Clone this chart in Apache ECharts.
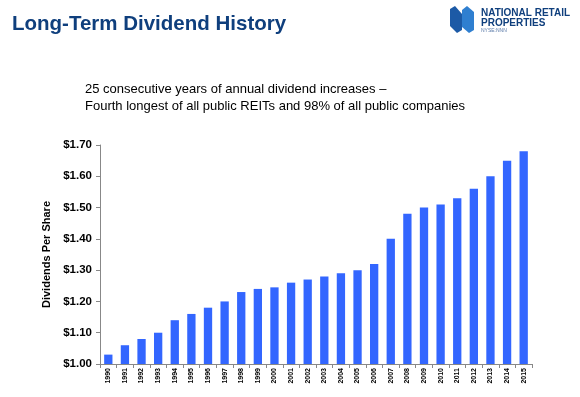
<!DOCTYPE html>
<html>
<head>
<meta charset="utf-8">
<script src="https://cdn.jsdelivr.net/npm/echarts@6/dist/echarts.min.js"></script>
<style>
  html, body { margin: 0; padding: 0; background: #fff; }
  #chart { width: 580px; height: 397px; }
</style>
</head>
<body>
<div id="chart"></div>
<script>
const years = ["1990", "1991", "1992", "1993", "1994", "1995", "1996", "1997", "1998", "1999",
  "2000", "2001", "2002", "2003", "2004", "2005", "2006", "2007", "2008", "2009",
  "2010", "2011", "2012", "2013", "2014", "2015"];
const dividends = [1.03, 1.06, 1.08, 1.10, 1.14, 1.16, 1.18, 1.20, 1.23, 1.24,
  1.245, 1.26, 1.27, 1.28, 1.29, 1.30, 1.32, 1.40, 1.48, 1.50,
  1.51, 1.53, 1.56, 1.60, 1.65, 1.68];
const subtitleLines = [
  "25 consecutive years of annual dividend increases \u2013",
  "Fourth longest of all public REITs and 98% of all public companies"
];

const chart = echarts.init(document.getElementById("chart"));

const navy = "#0f3f7d";

const option = {
  animation: false,
  textStyle: { fontFamily: "Liberation Sans, Arial, sans-serif" },
  graphic: [
    {
      type: "text", left: 12, top: 14,
      style: { text: "Long-Term Dividend History", fill: navy, font: "bold 20.5px 'Liberation Sans', Arial" }
    },
    {
      type: "text", left: 85, top: 81,
      style: { text: subtitleLines.join("\n"), fill: "#000", font: "13px 'Liberation Sans', Arial", lineHeight: 17 }
    },
    // logo mark
    {
      type: "polygon", shape: { points: [[450, 9], [455, 6], [462, 14], [462, 30], [457, 33], [450, 26]] },
      style: { fill: "#1c5aa6" }
    },
    {
      type: "polygon", shape: { points: [[462, 10], [467, 6], [474, 12], [474, 30], [469, 33], [462, 27]] },
      style: { fill: "#2f7fd0" }
    },
    {
      type: "text", left: 481, top: 8,
      style: { text: "NATIONAL RETAIL", fill: navy, font: "bold 10px 'Liberation Sans', Arial" }
    },
    {
      type: "text", left: 481, top: 18,
      style: { text: "PROPERTIES", fill: navy, font: "bold 10px 'Liberation Sans', Arial" }
    },
    {
      type: "text", left: 481, top: 28,
      style: { text: "NYSE:NNN", fill: "#5a7aa8", font: "5px 'Liberation Sans', Arial" }
    }
  ],
  grid: { left: 100, right: 48, top: 145, bottom: 33 },
  xAxis: {
    type: "category",
    data: years,
    axisLine: { lineStyle: { color: "#888", width: 1 } },
    axisTick: { show: true, length: 4, lineStyle: { color: "#888" } },
    axisLabel: { rotate: 90, fontSize: 7, fontWeight: "bold", color: "#000", margin: 4, interval: 0 }
  },
  yAxis: {
    type: "value",
    min: 1.0, max: 1.7, interval: 0.1,
    name: "Dividends Per Share",
    nameLocation: "middle",
    nameGap: 47,
    nameTextStyle: { fontSize: 11, fontWeight: "bold", color: "#000" },
    axisLine: { show: true, lineStyle: { color: "#888", width: 1 } },
    axisTick: { show: true, length: 4, lineStyle: { color: "#888" } },
    splitLine: { show: false },
    axisLabel: {
      fontSize: 11.5, fontWeight: "bold", color: "#000", margin: 8,
      formatter: v => "$" + v.toFixed(2)
    }
  },
  series: [{
    type: "bar",
    data: dividends,
    barWidth: "50%",
    itemStyle: { color: "#3366ff" }
  }]
};

chart.setOption(option);
</script>
</body>
</html>
